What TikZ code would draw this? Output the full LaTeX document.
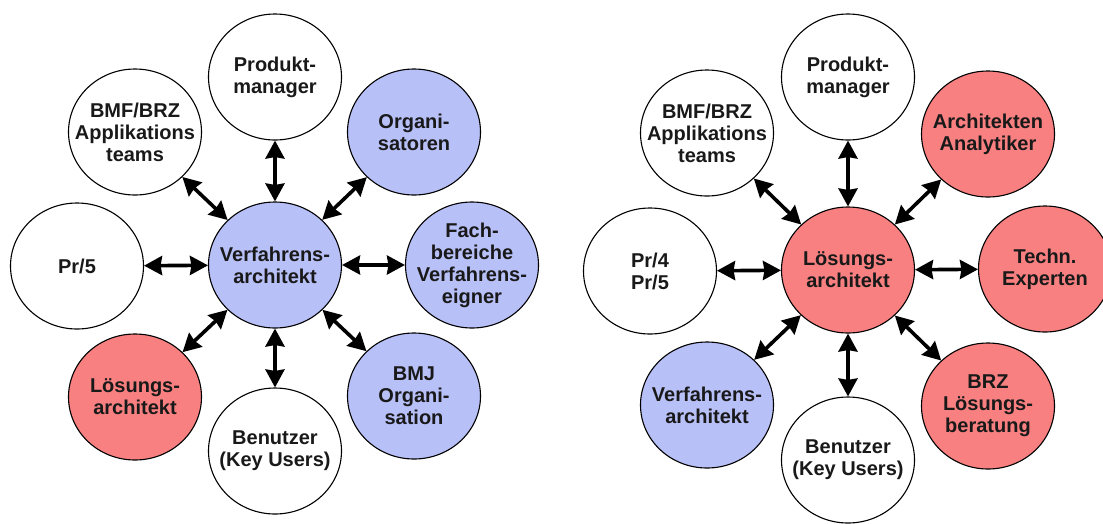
\documentclass[tikz,border=0pt]{standalone}
\usepackage{fontspec}
\setmainfont{Liberation Sans}
\usetikzlibrary{shapes.geometric,arrows.meta}
\definecolor{bubbleblue}{RGB}{184,192,248}
\definecolor{bubblered}{RGB}{248,128,128}
\begin{document}
\begin{tikzpicture}[x=1pt,y=-1pt,
  bubbletext/.style={align=center, inner sep=0pt,
    font=\fontsize{20}{22}\selectfont\bfseries, text=black!90},
  bubble/.style={ellipse, draw=black, line width=1.1pt, fill=white,
    minimum width=133pt, minimum height=126pt, inner sep=0pt,
    label={[bubbletext]center:#1}},
  bluebubble/.style={bubble={#1}, fill=bubbleblue},
  redbubble/.style={bubble={#1}, fill=bubblered},
  link/.style={line width=3.6pt,
    {Stealth[length=18pt,width=19pt,inset=1.5pt]}-{Stealth[length=18pt,width=19pt,inset=1.5pt]}}]
\useasboundingbox[fill=white] (0,0) rectangle (1103,523);

% --- Verfahrensarchitekt and its partners
\node[bluebubble={Verfahrens-\\architekt}]               (va)   at (275,265) {};
\node[bubble={Produkt-\\manager}]                        (vaP)  at (275,77)  {};
\node[bubble={BMF/BRZ\\Applikations\\teams}]             (vaB)  at (135,132) {};
\node[bluebubble={Organi-\\satoren}]                     (vaO)  at (414,132) {};
\node[bubble={Pr/5}]                                     (vaPr) at (77,266)  {};
\node[bluebubble={Fach-\\bereiche\\Verfahrens-\\eigner}] (vaF)  at (472,265) {};
\node[redbubble={Lösungs-\\architekt}]                   (vaL)  at (135,397) {};
\node[bubble={Benutzer\\(Key Users)}]                    (vaU)  at (275,451) {};
\node[bluebubble={BMJ\\Organi-\\sation}]                 (vaJ)  at (414,396) {};
\foreach \n in {vaP,vaB,vaO,vaPr,vaF,vaL,vaU,vaJ}
  \draw[link] (va) -- (\n);

% --- Lösungsarchitekt and its partners
\node[redbubble={Lösungs-\\architekt}]                   (la)   at (848,270)  {};
\node[bubble={Produkt-\\manager}]                        (laP)  at (848,77)   {};
\node[bubble={BMF/BRZ\\Applikations\\teams}]             (laB)  at (707,133)  {};
\node[redbubble={Architekten\\Analytiker}]               (laA)  at (988,134)  {};
\node[bubble={Pr/4\\Pr/5}]                               (laPr) at (650,271)  {};
\node[redbubble={Techn.\\Experten}]                      (laT)  at (1045,269) {};
\node[bluebubble={Verfahrens-\\architekt}]               (laV)  at (707,405)  {};
\node[bubble={Benutzer\\(Key Users)}]                    (laU)  at (848,460)  {};
\node[redbubble={BRZ\\Lösungs-\\beratung}]               (laR)  at (988,406)  {};
\foreach \n in {laP,laB,laA,laPr,laT,laV,laU,laR}
  \draw[link] (la) -- (\n);
\end{tikzpicture}
\end{document}
